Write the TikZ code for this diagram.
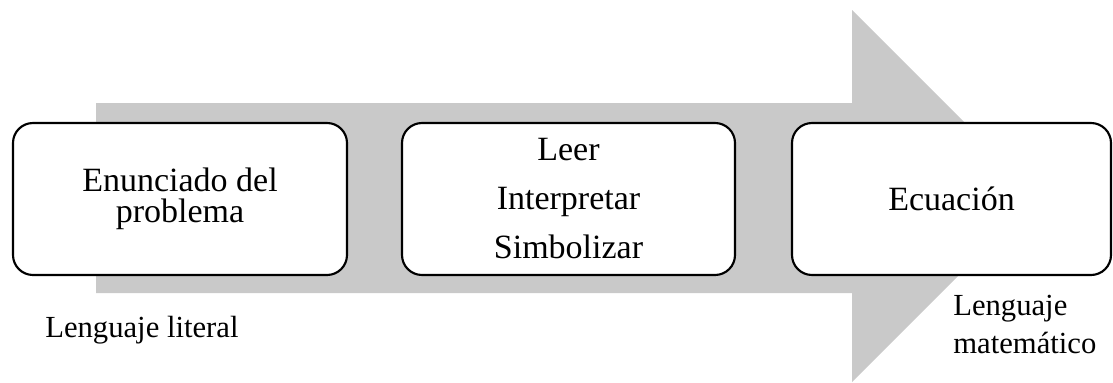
\documentclass[tikz,border=0pt]{standalone}
\usepackage{fontspec}
\setmainfont{Liberation Serif}
\definecolor{arrowgray}{RGB}{201,201,201}
\begin{document}
\begin{tikzpicture}[x=0.75pt,y=-0.75pt,
  stagebox/.style={draw=black, line width=1.6pt, fill=white, rounded corners=15pt,
    align=center, inner sep=0pt, minimum height=114pt,
    font=\fontsize{25.5pt}{23pt}\selectfont},
  langlabel/.style={inner sep=0pt, align=left,
    font=\fontsize{23pt}{28.5pt}\selectfont}]
\useasboundingbox (0,0) rectangle (1113,382);
% big background arrow
\fill[arrowgray] (96,103) -- (852,103) -- (852,10) -- (1038,196) -- (852,382)
  -- (852,293) -- (96,293) -- cycle;
% stages
\node[stagebox, minimum width=250.5pt] (enun) at (180,199) {Enunciado del\\problema};
\node[stagebox, minimum width=249.75pt, font=\fontsize{25.5pt}{36.75pt}\selectfont]
  (proc) at (568.5,199) {Leer\\Interpretar\\Simbolizar};
\node[stagebox, minimum width=239.25pt] (ecu) at (951.5,199) {Ecuación};
% labels
\node[langlabel, anchor=base west] (lit) at (45,337) {Lenguaje literal};
\node[langlabel, anchor=north west] (mat) at (953,295) {Lenguaje\\matemático};
\end{tikzpicture}
\end{document}
